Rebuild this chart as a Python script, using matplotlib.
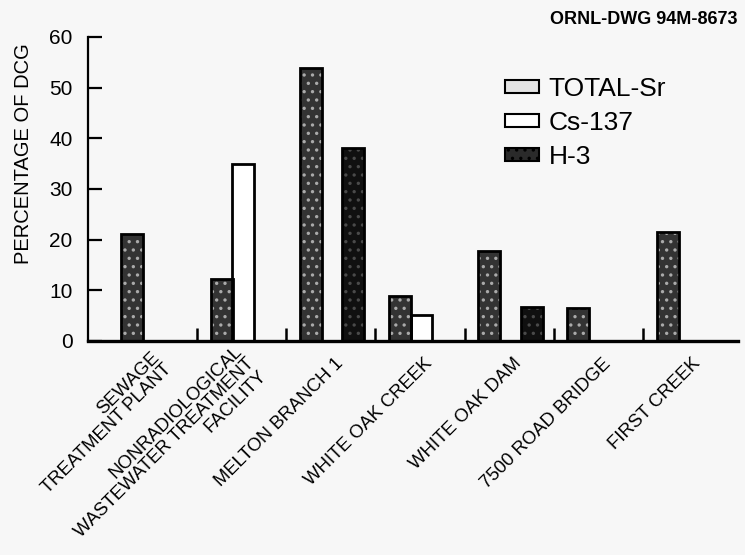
import numpy as np
import matplotlib
matplotlib.use("Agg")
import matplotlib.pyplot as plt
from matplotlib.patches import Patch
from matplotlib.transforms import ScaledTranslation

plt.rcParams['font.family'] = ['Liberation Sans', 'DejaVu Sans']
plt.rcParams['hatch.linewidth'] = 1.2

# data (percentage of DCG)
sites = ["SEWAGE\nTREATMENT PLANT",
         "NONRADIOLOGICAL\nWASTEWATER TREATMENT\nFACILITY",
         "MELTON BRANCH 1",
         "WHITE OAK CREEK",
         "WHITE OAK DAM",
         "7500 ROAD BRIDGE",
         "FIRST CREEK"]
total_sr = [21.2, 12.2, 53.8, 8.8, 17.8, 6.6, 21.6]
cs137 = [np.nan, 34.9, np.nan, 5.2, np.nan, np.nan, np.nan]
h3 = [np.nan, np.nan, 38.1, np.nan, 6.8, np.nan, np.nan]
series_names = ["TOTAL-Sr", "Cs-137", "H-3"]
yticks = [0, 10, 20, 30, 40, 50, 60]

bg = '#f7f7f7'
fig = plt.figure(figsize=(7.45, 5.55), dpi=100, facecolor=bg)
ax = fig.add_axes([88/745, 1-341/555, 650/745, 304/555], facecolor=bg)

x = np.arange(len(sites))
w = 0.245
offs = [-0.225, 0.015, 0.25]

# (face, hatch colour) per series
looks = [('#333333', '#aaaaaa'), ('white', None), ('#101010', '#4a4a4a')]
for vals, off, (fc, hc) in zip([total_sr, cs137, h3], offs, looks):
    vals = np.array(vals, dtype=float)
    if hc is not None:
        ax.bar(x + off, vals, w, color=fc, edgecolor=hc, hatch='..', linewidth=0, zorder=2)
    else:
        ax.bar(x + off, vals, w, color=fc, linewidth=0, zorder=2)
    ax.bar(x + off, vals, w, fill=False, edgecolor='black', linewidth=2, zorder=3)

ax.set_xlim(-0.723, 6.564)
ax.set_ylim(0, 60)
ax.set_yticks(yticks)
ax.spines['top'].set_visible(False)
ax.spines['right'].set_visible(False)
ax.spines['left'].set_linewidth(1.6)
ax.spines['bottom'].set_linewidth(2.4)
ax.tick_params(axis='y', direction='in', length=10, width=1.6, pad=11, labelsize=15)

# small dividers between sites
ax.set_xticks(x[:-1] + 0.5, minor=True)
ax.set_xticks([])
ax.tick_params(axis='x', which='minor', direction='in', length=9.5, width=1.8)

off_tr = ScaledTranslation(10/100, -20/100, fig.dpi_scale_trans)
for xi, name in zip(x, sites):
    ax.text(xi, 0, name, transform=ax.get_xaxis_transform() + off_tr,
            rotation=45, rotation_mode='anchor', ha='right', va='center',
            multialignment='right', linespacing=1.02, fontsize=13.3)

fig.text(24/745, 1-154/555, "PERCENTAGE OF DCG", rotation=90,
         ha='center', va='center', fontsize=14.5)
fig.text(738/745, 1-11/555, "ORNL-DWG 94M-8673", ha='right', va='top',
         fontsize=13, fontweight='bold')

handles = [Patch(facecolor='#e4e4e4', edgecolor='black', linewidth=1.5),
           Patch(facecolor='white', edgecolor='black', linewidth=1.5),
           Patch(facecolor='#2a2a2a', edgecolor='black', linewidth=1.5,
                 hatch='..')]
ax.legend(handles, series_names, loc='upper left',
          bbox_to_anchor=(505/745, 1-77/555), bbox_transform=fig.transFigure,
          frameon=False, fontsize=19, borderpad=0, borderaxespad=0,
          handlelength=1.3, handleheight=0.42, handletextpad=0.35,
          labelspacing=0.38)

fig.savefig("out.png", dpi=100, facecolor=bg)
